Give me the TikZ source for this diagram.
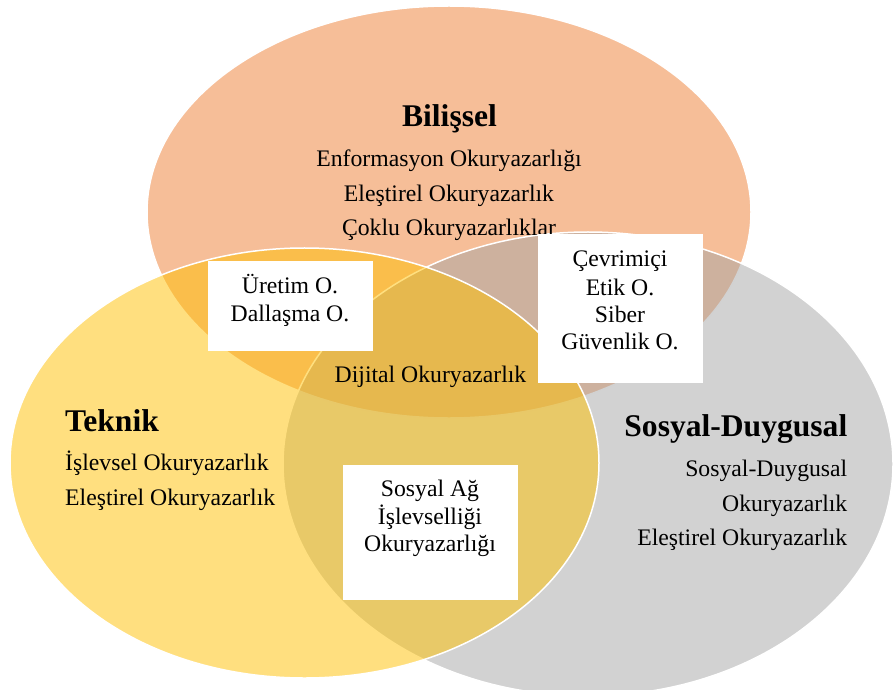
\documentclass[tikz,border=0pt]{standalone}
\usepackage{fontspec}
\setmainfont{Liberation Serif}
\definecolor{cOrange}{HTML}{ED7D31}
\definecolor{cGrey}{HTML}{A5A5A5}
\definecolor{cGold}{HTML}{FFC000}
\tikzset{
  venn/.style={fill opacity=0.5, draw=white, line width=1.5bp},
  reg/.style={font=\fontsize{23.8}{28}\selectfont, inner sep=0pt, text=black},
  ttl/.style={font=\fontsize{31.7}{36}\selectfont\bfseries, inner sep=0pt, text=black},
  wbox/.style={fill=white, draw=none, inner sep=0pt, outer sep=0pt}
}
\begin{document}
\begin{tikzpicture}[x=1bp,y=-1bp]
\useasboundingbox (0,0) rectangle (894,690);
% circles
\path[venn, fill=cOrange] (449,212) ellipse [x radius=302bp, y radius=206bp];
\path[venn, fill=cGrey] (588,464) ellipse [x radius=305bp, y radius=232bp];
\path[venn, fill=cGold] (304.5,463) ellipse [x radius=294.5bp, y radius=215bp];
% Bilissel
\node[ttl, anchor=base] (bt) at (449.5,126.7) {Bilişsel};
\node[reg, anchor=base] (b1) at (449,166.7) {Enformasyon Okuryazarlığı};
\node[reg, anchor=base] (b2) at (449,201) {Eleştirel Okuryazarlık};
\node[reg, anchor=base] (b3) at (449,235) {Çoklu Okuryazarlıklar};
% Teknik
\node[ttl, anchor=base west] (tt) at (65,431.7) {Teknik};
\node[reg, anchor=base west] (t1) at (65,470) {İşlevsel Okuryazarlık};
\node[reg, anchor=base west] (t2) at (65,505.7) {Eleştirel Okuryazarlık};
% Sosyal-Duygusal
\node[ttl, anchor=base east] (st) at (847.5,436.7) {Sosyal-Duygusal};
\node[reg, anchor=base east] (s1) at (847.5,476) {Sosyal-Duygusal};
\node[reg, anchor=base east] (s2) at (847.5,511) {Okuryazarlık};
\node[reg, anchor=base east] (s3) at (847.5,545) {Eleştirel Okuryazarlık};
% Dijital
\node[reg, anchor=base] (dj) at (430.5,382.7) {Dijital Okuryazarlık};
% boxes
\node[wbox, minimum width=165bp, minimum height=90bp] (box1) at (290.5,305.5) {};
\node[reg, anchor=base] (u1) at (290,293) {Üretim O.};
\node[reg, anchor=base] (u2) at (290,321) {Dallaşma O.};
\node[wbox, minimum width=165bp, minimum height=149bp] (box2) at (620.5,308.5) {};
\node[reg, anchor=base] (c1) at (620,266.7) {Çevrimiçi};
\node[reg, anchor=base] (c2) at (620,295) {Etik O.};
\node[reg, anchor=base] (c3) at (620,322.3) {Siber};
\node[reg, anchor=base] (c4) at (620,349.7) {Güvenlik O.};
\node[wbox, minimum width=175bp, minimum height=135bp] (box3) at (430.5,532.5) {};
\node[reg, anchor=base] (a1) at (430,496.7) {Sosyal Ağ};
\node[reg, anchor=base] (a2) at (430,524) {İşlevselliği};
\node[reg, anchor=base] (a3) at (430,551.7) {Okuryazarlığı};
\end{tikzpicture}
\end{document}
